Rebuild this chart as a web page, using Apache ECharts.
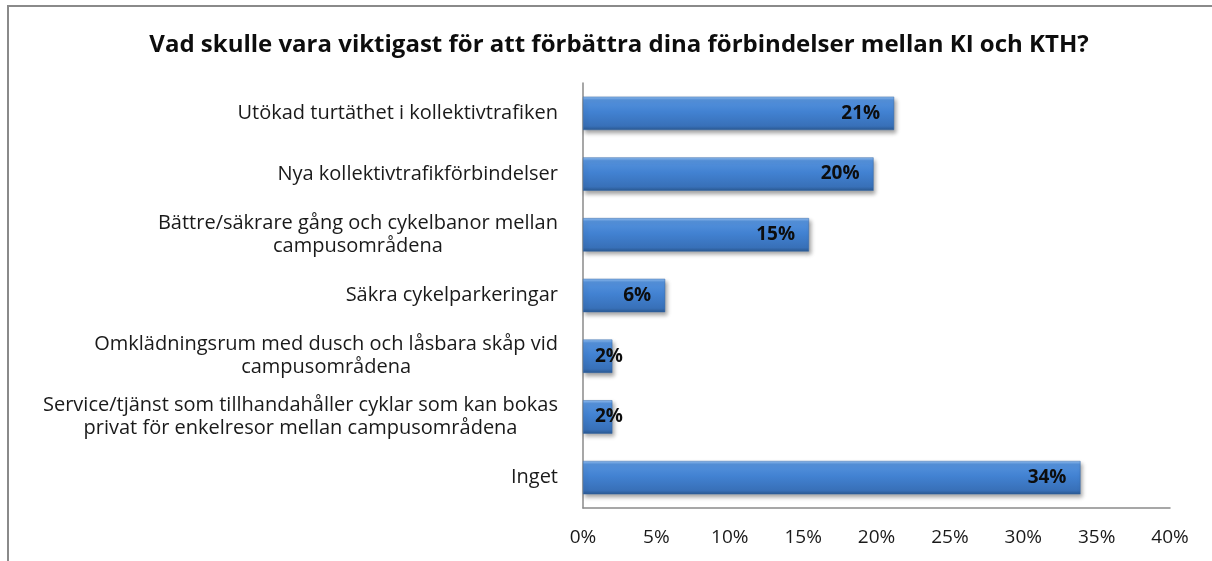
<!DOCTYPE html>
<html>
<head>
<meta charset="utf-8">
<script src="https://cdn.jsdelivr.net/npm/echarts@6/dist/echarts.min.js"></script>
<style>
  html, body { margin: 0; padding: 0; background: #fff; }
  #chart { width: 1212px; height: 561px; }
</style>
</head>
<body>
<div id="chart"></div>
<script>
// kategorier, uppifrån och ner
const categories = [
  "Utökad turtäthet i kollektivtrafiken",
  "Nya kollektivtrafikförbindelser",
  "Bättre/säkrare gång och cykelbanor mellan\ncampusområdena",
  "Säkra cykelparkeringar",
  "Omklädningsrum med dusch och låsbara skåp vid\ncampusområdena",
  "Service/tjänst som tillhandahåller cyklar som kan bokas\nprivat för enkelresor mellan campusområdena",
  "Inget"
];
// andel i procent
const values = [21.2, 19.8, 15.4, 5.6, 2.0, 2.0, 33.9];
const ticks = [0, 5, 10, 15, 20, 25, 30, 35, 40];

const FONT = "Open Sans";

const barColor = new echarts.graphic.LinearGradient(0, 0, 0, 1, [
  { offset: 0, color: "#94c0f2" },
  { offset: 0.1, color: "#5592dc" },
  { offset: 0.45, color: "#4282d2" },
  { offset: 0.88, color: "#3870b8" },
  { offset: 1, color: "#2a5890" }
]);

const seriesData = values.map(function (v) {
  const item = { value: v };
  if (v < 3) {
    // små staplar: etiketten hamnar utanför som i Excel
    item.label = { position: "insideLeft", distance: 12 };
  }
  return item;
});

const chart = echarts.init(document.getElementById("chart"));
chart.setOption({
  animation: false,
  backgroundColor: "#fff",
  title: {
    text: "Vad skulle vara viktigast för att förbättra dina förbindelser mellan KI och KTH?",
    left: 614,
    textAlign: "center",
    top: 28,
    textStyle: { fontFamily: FONT, fontWeight: "bold", fontSize: 24, color: "#0d0d0d" }
  },
  graphic: [{
    type: "rect",
    shape: { x: 8, y: 6, width: 1400, height: 800 },
    style: { fill: "none", stroke: "#8a8a8a", lineWidth: 2 },
    silent: true
  }],
  grid: { left: 583, right: 42, top: 83, bottom: 53 },
  xAxis: {
    type: "value",
    min: ticks[0],
    max: ticks[ticks.length - 1],
    interval: 5,
    axisLine: { show: true, lineStyle: { color: "#8a8a8a", width: 1.5 } },
    axisTick: { show: false },
    splitLine: { show: false },
    axisLabel: {
      formatter: function (v) { return v + "%"; },
      fontFamily: FONT,
      fontSize: 19,
      color: "#1a1a1a",
      margin: 20
    }
  },
  yAxis: {
    type: "category",
    data: categories,
    inverse: true,
    axisLine: { show: true, lineStyle: { color: "#8a8a8a", width: 1.5 } },
    axisTick: { show: false },
    axisLabel: {
      margin: 25,
      formatter: function (s) {
        return s.split("\n").map(function (l) { return "{c|" + l + "}"; }).join("\n");
      },
      rich: {
        c: { align: "center", fontFamily: FONT, fontSize: 20, color: "#1a1a1a", lineHeight: 23 }
      }
    }
  },
  series: [{
    type: "bar",
    data: seriesData,
    barWidth: "55%",
    itemStyle: {
      color: barColor,
      borderColor: "#3468a8",
      borderWidth: 0.5,
      shadowColor: "rgba(0,0,0,0.35)",
      shadowBlur: 4,
      shadowOffsetX: 2,
      shadowOffsetY: 3
    },
    label: {
      show: true,
      position: "insideRight",
      distance: 14,
      formatter: function (p) { return Math.round(p.value) + "%"; },
      fontFamily: FONT,
      fontWeight: "bold",
      fontSize: 19,
      color: "#0d0d0d"
    }
  }]
});
</script>
</body>
</html>
